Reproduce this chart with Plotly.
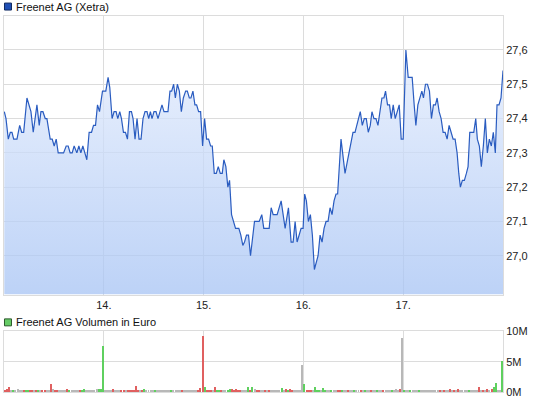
import plotly.graph_objects as go

# ---------------- data ----------------
day_ticks = [14, 15, 16, 17]
day_labels = ["14.", "15.", "16.", "17."]
first_day = 13

# time position of each price vertex, in hundredths of a trading day since the start of the 13th
price_t = [0.3, 2, 4.3, 6.3, 8, 9.7, 13, 15.7, 17.7, 19.7, 23, 27, 29.3, 33, 35.3, 37, 39, 41.3, 43, 44.3,
           46.3, 48.3, 50.3, 52.3, 54.3, 59.7, 62.3, 64.3, 66.3, 68.3, 70.3, 73, 75, 77, 79, 81, 83, 85.3,
           87.7, 89.7, 91.7, 93.7, 95.7, 98.7, 102, 104.3, 106, 108.3, 110.3, 112.3, 114, 116, 117.7,
           119.7, 121.7, 123.7, 125.7, 127.7, 129.3, 131.3, 133.3, 135.3, 137.3, 139.3, 141.3, 143.3,
           145, 146.7, 148.3, 150.3, 152.3, 154.3, 156.3, 158.3, 160.3, 164.3, 166.3, 168, 170, 171.7,
           173.7, 175.7, 177.7, 179.7, 182, 183.7, 185.7, 187.3, 189.3, 191.3, 193, 195, 197, 199, 201,
           203, 205, 207, 208.7, 210.7, 212.7, 214.7, 216.7, 218.7, 220.3, 222.3, 224.3, 226, 228, 230,
           232, 235.3, 237.3, 239.3, 241, 243, 245, 247, 251, 255.7, 258.3, 260.3, 265.7, 267.7, 269.7,
           273.7, 277.7, 279.7, 281.7, 285, 287.7, 289.7, 291.7, 293.7, 295.7, 297.7, 299.7, 301.3, 303,
           305, 307, 309, 311, 313, 314.7, 316.7, 318.7, 320.7, 322.7, 324.7, 326.7, 328.7, 330.7, 332.7,
           334.3, 337.7, 339.7, 341.7, 343.7, 345.7, 347.7, 349.7, 351.7, 353.7, 355.7, 357, 359, 361,
           363, 365, 367, 368.7, 370.7, 372.7, 374.7, 376.7, 378.7, 380.7, 382.3, 384.3, 386.3, 388, 390,
           392, 394, 396, 398, 400, 402.7, 405, 407, 409, 411, 412.7, 414.7, 416.7, 418.7, 420.3, 422.3,
           424.3, 426.3, 428.3, 430.3, 432.3, 434, 436, 438, 440, 442, 444, 446, 448, 450, 452, 454,
           455.7, 457.3, 459.3, 461.3, 463.3, 465, 466.7, 468.7, 470.7, 472.7, 474.3, 476.3, 478.3,
           480.3, 482.3, 484.3, 486.3, 488.3, 490.3, 492.3, 494, 496, 498, 500]

price = [27.42, 27.40, 27.34, 27.36, 27.36, 27.34, 27.34, 27.38, 27.36, 27.36, 27.46, 27.42, 27.36, 27.44,
         27.38, 27.42, 27.42, 27.40, 27.40, 27.38, 27.34, 27.34, 27.32, 27.34, 27.30, 27.30, 27.32, 27.32,
         27.30, 27.30, 27.32, 27.30, 27.32, 27.30, 27.32, 27.30, 27.28, 27.36, 27.36, 27.38, 27.38, 27.44,
         27.42, 27.48, 27.48, 27.52, 27.49, 27.40, 27.42, 27.42, 27.40, 27.42, 27.40, 27.36, 27.36, 27.34,
         27.42, 27.42, 27.40, 27.34, 27.40, 27.34, 27.34, 27.40, 27.42, 27.42, 27.40, 27.42, 27.40, 27.42,
         27.42, 27.40, 27.42, 27.44, 27.42, 27.42, 27.48, 27.48, 27.50, 27.46, 27.50, 27.48, 27.42, 27.46,
         27.48, 27.48, 27.46, 27.46, 27.48, 27.44, 27.44, 27.42, 27.42, 27.32, 27.40, 27.34, 27.34, 27.32,
         27.32, 27.24, 27.24, 27.26, 27.24, 27.24, 27.28, 27.26, 27.20, 27.22, 27.12, 27.10, 27.08, 27.08,
         27.06, 27.03, 27.04, 27.06, 27.06, 27.00, 27.10, 27.10, 27.12, 27.08, 27.08, 27.14, 27.12, 27.12,
         27.16, 27.12, 27.08, 27.14, 27.04, 27.04, 27.10, 27.04, 27.06, 27.08, 27.08, 27.18, 27.16, 27.10,
         27.12, 27.06, 26.96, 26.98, 27.00, 27.06, 27.04, 27.08, 27.10, 27.10, 27.14, 27.12, 27.16, 27.18,
         27.18, 27.34, 27.28, 27.24, 27.27, 27.30, 27.32, 27.36, 27.36, 27.38, 27.40, 27.42, 27.38, 27.40,
         27.40, 27.36, 27.38, 27.42, 27.40, 27.40, 27.38, 27.42, 27.46, 27.46, 27.48, 27.44, 27.44, 27.40,
         27.44, 27.40, 27.42, 27.44, 27.34, 27.34, 27.60, 27.52, 27.52, 27.52, 27.44, 27.38, 27.44, 27.46,
         27.48, 27.46, 27.50, 27.50, 27.48, 27.40, 27.44, 27.44, 27.46, 27.42, 27.40, 27.36, 27.36, 27.34,
         27.38, 27.36, 27.34, 27.34, 27.30, 27.24, 27.20, 27.22, 27.22, 27.24, 27.26, 27.36, 27.36, 27.36,
         27.40, 27.34, 27.32, 27.26, 27.32, 27.40, 27.30, 27.34, 27.32, 27.36, 27.30, 27.44, 27.44, 27.46,
         27.54]

# volume per trading day (48 intervals per day), in million euro; r = down, g = up, n = unchanged
vol_day1 = [0.35, 0.45, 0.8, 0.3, 0.2, 0.17, 0.45, 0.17, 0.17, 0.17, 0.3, 0.3, 0.3, 0.3, 0.17, 0.3,
            0.3, 0.17, 0.17, 0.3, 0.3, 0.17, 1.25, 0.4, 0.3, 0.3, 0.17, 0.17, 0.17, 0.17, 0.45, 0.3,
            0.17, 0.17, 0.17, 0.17, 0.3, 0.3, 0.45, 0.17, 0.17, 0.17, 0.17, 0.17, 0.45, 0.45, 0.45, 7.55]
dir_day1 = "rrrngnnnnrggrrnrgnrrnnrnrrnnnnrgnnnnrggnnnnnnggg"
vol_day2 = [0.3, 0.17, 0.17, 0.17, 0.45, 0.17, 0.17, 0.17, 0.3, 0.3, 0.3, 0.3, 0.3, 0.3, 0.3, 0.9,
            0.3, 0.3, 0.3, 0.45, 0.17, 0.17, 0.17, 0.17, 0.3, 0.17, 0.17, 0.17, 0.17, 0.17, 0.17, 0.3,
            0.3, 0.17, 0.17, 0.17, 0.17, 0.3, 0.17, 0.17, 0.17, 0.17, 0.17, 0.17, 0.17, 0.3, 0.55, 9.25]
dir_day2 = "nnnnrnnnrrnrrrrrrnrgnnnngnnnnnnngnnnnrnnnnnnnrrr"
vol_day3 = [0.8, 0.3, 0.3, 0.3, 0.3, 0.7, 0.3, 0.3, 0.3, 0.17, 0.17, 0.3, 0.45, 0.45, 0.3, 0.45,
            0.3, 0.3, 0.17, 0.17, 0.17, 0.7, 0.3, 0.7, 0.45, 0.3, 0.3, 0.3, 0.3, 0.3, 0.17, 0.3,
            0.17, 0.17, 0.17, 0.17, 0.17, 0.57, 0.3, 0.45, 0.3, 0.45, 0.3, 0.17, 0.17, 0.17, 0.17, 4.4]
dir_day3 = "grrrnrggrnnggrrrrrnnngrgnrrnnrnrnnnnngnrgrrnnnnn"
vol_day4 = [1.25, 0.3, 0.3, 0.3, 0.3, 0.8, 0.3, 0.3, 0.17, 0.57, 0.3, 0.17, 0.17, 0.3, 0.17, 0.17,
            0.3, 0.3, 0.3, 0.17, 0.17, 0.3, 0.17, 0.17, 0.3, 0.17, 0.17, 0.3, 0.17, 0.3, 0.17, 0.17,
            0.3, 0.17, 0.17, 0.3, 0.17, 0.17, 0.3, 0.17, 0.17, 0.17, 0.3, 0.17, 0.45, 0.17, 0.45, 8.8]
dir_day4 = "grrrngggnggnngnnrrgnnrnngnnrngnnrnngnnrnnngnnnrn"
vol_day5 = [0.3, 0.17, 0.17, 0.3, 0.17, 0.17, 0.17, 0.3, 0.17, 0.17, 0.17, 0.17, 0.17, 0.17, 0.17, 0.17,
            0.17, 0.3, 0.17, 0.3, 0.17, 0.17, 0.45, 0.17, 0.3, 0.17, 0.45, 0.17, 0.17, 0.17, 0.17, 0.3,
            0.17, 0.17, 0.17, 0.17, 0.8, 0.17, 0.3, 0.17, 0.45, 0.3, 0.45, 0.7, 1.35, 0.3, 0.3, 5.0]
dir_day5 = "gnngnnngnnnnnnnnnrnrnnrnrnrnnnngnnnnrnrnrnrggnng"

vol_days = [vol_day1, vol_day2, vol_day3, vol_day4, vol_day5]
dir_days = [dir_day1, dir_day2, dir_day3, dir_day4, dir_day5]

price_ticks = [27.0, 27.1, 27.2, 27.3, 27.4, 27.5, 27.6]
vol_ticks = [0, 5e6, 10e6]
vol_tick_text = ["0M", "5M", "10M"]

title_price = "Freenet AG (Xetra)"
title_vol = "Freenet AG Volumen in Euro"

# ---------------- styling ----------------
FONT = "Liberation Sans, Arial, sans-serif"
GRID = "#dcdcdc"
LINE_BLUE = "#2a5cc0"
dir_colors = {"r": "#e06060", "g": "#5fd05f", "n": "#b8b8b8"}
Y_MIN, Y_MAX = 26.887, 27.699
W, H = 545, 401
ML, MR, MT, MB = 3, 42, 16, 7

x_price = [first_day + t / 100 for t in price_t]

vol_x, vol_y, vol_c = [], [], []
for d, (vals, dirs) in enumerate(zip(vol_days, dir_days)):
    n = len(vals)
    for i, (v, c) in enumerate(zip(vals, dirs)):
        vol_x.append(first_day + d + (i + 0.5) / n)
        vol_y.append(v * 1e6)
        vol_c.append(dir_colors[c])

fig = go.Figure()

# baseline for the area fill
fig.add_trace(go.Scatter(x=[x_price[0], x_price[-1]], y=[Y_MIN, Y_MIN], mode="lines",
                         line=dict(width=0, color="rgba(0,0,0,0)"), hoverinfo="skip",
                         showlegend=False, xaxis="x", yaxis="y"))
fig.add_trace(go.Scatter(x=x_price, y=price, mode="lines", fill="tonexty",
                         fillgradient=dict(type="vertical", start=Y_MIN, stop=Y_MAX,
                                           colorscale=[[0, "rgba(166,195,244,0.75)"],
                                                       [1, "rgba(236,242,254,0.75)"]]),
                         line=dict(color=LINE_BLUE, width=1.2), showlegend=False,
                         xaxis="x", yaxis="y"))

fig.add_trace(go.Bar(x=vol_x, y=vol_y, marker=dict(color=vol_c, line=dict(width=0)),
                     width=0.01, showlegend=False, xaxis="x2", yaxis="y2"))

plot_h = H - MT - MB
main_dom = [(H - MB - 296) / plot_h, 1.0]
vol_dom = [0.0, (H - MB - 333) / plot_h]

axis_common = dict(showgrid=True, gridcolor=GRID, gridwidth=1, zeroline=False,
                   showline=True, linecolor=GRID, linewidth=1, mirror=True,
                   tickfont=dict(family=FONT, size=11, color="#222"), ticks="")

fig.update_layout(
    width=W, height=H, autosize=False,
    margin=dict(l=ML, r=MR, t=MT, b=MB, pad=0),
    paper_bgcolor="white", plot_bgcolor="white",
    separators=",.",
    bargap=0,
    xaxis=dict(domain=[0, 1], range=[first_day, first_day + 5], anchor="y",
               tickvals=day_ticks, ticktext=day_labels, **axis_common),
    yaxis=dict(domain=main_dom, range=[Y_MIN, Y_MAX], side="right", anchor="x",
               tickvals=price_ticks, tickformat=".1f", **axis_common),
    xaxis2=dict(domain=[0, 1], range=[first_day, first_day + 5], anchor="y2",
                tickvals=day_ticks, showticklabels=False, **axis_common),
    yaxis2=dict(domain=vol_dom, range=[0, 10e6], side="right", anchor="x2",
                tickvals=vol_ticks, ticktext=vol_tick_text, **axis_common),
    showlegend=False,
)

def px_x(p):
    return (p - ML) / (W - ML - MR)

def px_y(p):
    return (H - MB - p) / plot_h

# legend-like headers
fig.add_shape(type="rect", xref="paper", yref="paper",
              x0=px_x(3.5), x1=px_x(10.5), y0=px_y(10), y1=px_y(3),
              fillcolor="#1f4fb5", line=dict(color="#102a60", width=1))
fig.add_annotation(text=title_price, xref="paper", yref="paper", x=px_x(13.5), y=px_y(6.5),
                   xanchor="left", yanchor="middle", showarrow=False,
                   font=dict(family=FONT, size=11, color="#111"))
fig.add_shape(type="rect", xref="paper", yref="paper",
              x0=px_x(3.5), x1=px_x(10.5), y0=px_y(327.5), y1=px_y(320.5),
              fillcolor="#66cc66", line=dict(color="#2d5a2d", width=1))
fig.add_annotation(text=title_vol, xref="paper", yref="paper", x=px_x(13.5), y=px_y(324),
                   xanchor="left", yanchor="middle", showarrow=False,
                   font=dict(family=FONT, size=11, color="#111"))

fig.write_html("out.html", config={"displayModeBar": False},
               post_script="document.body.style.margin='0';document.body.style.overflow='hidden';")
